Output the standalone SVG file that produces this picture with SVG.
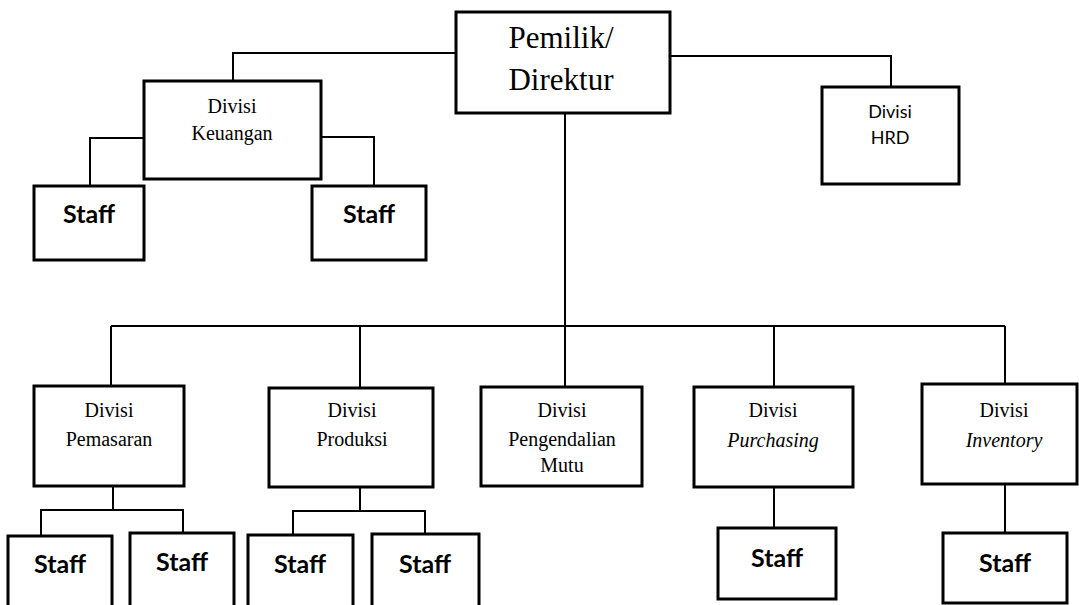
<svg xmlns="http://www.w3.org/2000/svg" width="1079" height="605" viewBox="0 0 1079 605">
<style>
  .box{fill:#fff;stroke:#000;stroke-width:3}
  .ln{fill:none;stroke:#000;stroke-width:2}
  .serif{font-family:"Liberation Serif","DejaVu Serif",serif;font-size:20px;fill:#000;text-anchor:middle}
  .big{font-family:"Liberation Serif","DejaVu Serif",serif;font-size:31px;fill:#000;text-anchor:middle}
  .sans{font-family:"Lato","Open Sans",sans-serif;font-size:18px;fill:#000;text-anchor:middle}
  .staff{font-family:"Lato","Open Sans",sans-serif;font-weight:bold;font-size:25px;fill:#000;text-anchor:middle}
  .it{font-style:italic}
</style>
<rect width="1079" height="605" fill="#fff"/>
<g id="connectors">
  <polyline class="ln" points="456,53 233,53 233,81"/>
  <polyline class="ln" points="144,138 90,138 90,186"/>
  <polyline class="ln" points="321,137 374,137 374,186"/>
  <polyline class="ln" points="670,56 891,56 891,87"/>
  <line class="ln" x1="565" y1="113" x2="565" y2="387"/>
  <line class="ln" x1="111" y1="326" x2="1005" y2="326"/>
  <line class="ln" x1="111" y1="326" x2="111" y2="386"/>
  <line class="ln" x1="360" y1="326" x2="360" y2="388"/>
  <line class="ln" x1="774" y1="326" x2="774" y2="387"/>
  <line class="ln" x1="1005" y1="326" x2="1005" y2="384"/>
  <polyline class="ln" points="113,486 113,510"/>
  <polyline class="ln" points="41,535 41,510 183,510 183,533"/>
  <polyline class="ln" points="360,487 360,511"/>
  <polyline class="ln" points="293,535 293,511 425,511 425,533"/>
  <line class="ln" x1="774" y1="487" x2="774" y2="528"/>
  <line class="ln" x1="1005" y1="484" x2="1005" y2="533"/>
</g>
<g id="pemilik"><rect class="box" x="456" y="12" width="214" height="101"/><text class="big" x="561" y="48">Pemilik/</text><text class="big" x="561" y="90">Direktur</text></g>
<g id="keuangan"><rect class="box" x="144" y="81" width="177" height="98"/><text class="serif" x="232" y="113">Divisi</text><text class="serif" x="232" y="140">Keuangan</text></g>
<g id="staff-k1"><rect class="box" x="34" y="186" width="110" height="74"/><text class="staff" x="89" y="223">Staff</text></g>
<g id="staff-k2"><rect class="box" x="312" y="186" width="114" height="74"/><text class="staff" x="369" y="223">Staff</text></g>
<g id="hrd"><rect class="box" x="822" y="87" width="137" height="97"/><text class="sans" x="890" y="118">Divisi</text><text class="sans" x="890" y="144">HRD</text></g>
<g id="pemasaran"><rect class="box" x="34" y="386" width="150" height="100"/><text class="serif" x="109" y="417">Divisi</text><text class="serif" x="109" y="446">Pemasaran</text></g>
<g id="produksi"><rect class="box" x="269" y="388" width="164" height="99"/><text class="serif" x="352" y="417">Divisi</text><text class="serif" x="352" y="446">Produksi</text></g>
<g id="pengendalian"><rect class="box" x="481" y="387" width="161" height="99"/><text class="serif" x="562" y="417">Divisi</text><text class="serif" x="562" y="446">Pengendalian</text><text class="serif" x="562" y="472">Mutu</text></g>
<g id="purchasing"><rect class="box" x="694" y="387" width="159" height="100"/><text class="serif" x="773" y="417">Divisi</text><text class="serif it" x="773" y="447">Purchasing</text></g>
<g id="inventory"><rect class="box" x="922" y="384" width="155" height="100"/><text class="serif" x="1004" y="417">Divisi</text><text class="serif it" x="1004" y="447">Inventory</text></g>
<g id="staff-p1"><rect class="box" x="8" y="536" width="104" height="75"/><text class="staff" x="60" y="573">Staff</text></g>
<g id="staff-p2"><rect class="box" x="130" y="533" width="104" height="78"/><text class="staff" x="182" y="571">Staff</text></g>
<g id="staff-r1"><rect class="box" x="248" y="535" width="105" height="76"/><text class="staff" x="300" y="573">Staff</text></g>
<g id="staff-r2"><rect class="box" x="372" y="534" width="107" height="77"/><text class="staff" x="425" y="573">Staff</text></g>
<g id="staff-pu"><rect class="box" x="718" y="528" width="118" height="71"/><text class="staff" x="777" y="567">Staff</text></g>
<g id="staff-in"><rect class="box" x="943" y="533" width="124" height="70"/><text class="staff" x="1005" y="572">Staff</text></g>
</svg>
